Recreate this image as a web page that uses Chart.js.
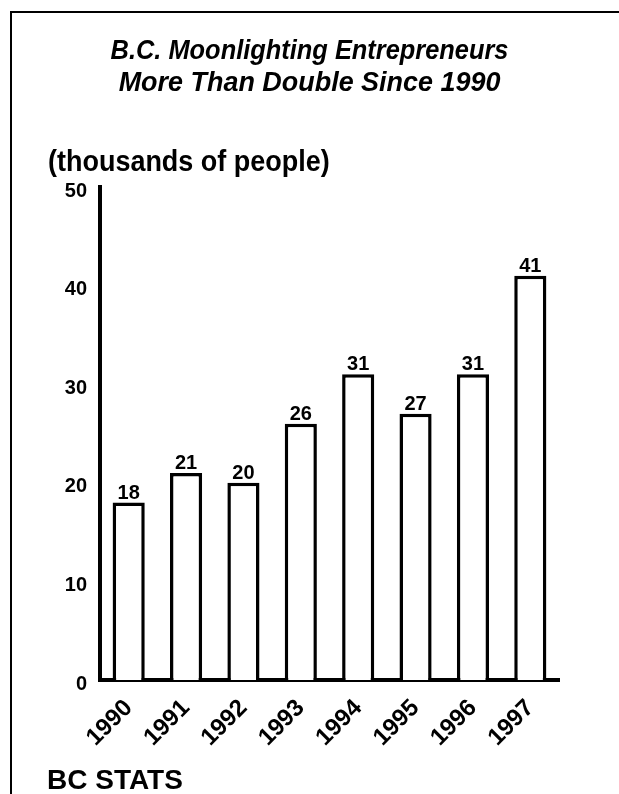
<!DOCTYPE html>
<html>
<head>
<meta charset="utf-8">
<script src="https://cdn.jsdelivr.net/npm/chart.js@4/dist/chart.umd.min.js"></script>
<style>
  html, body { margin: 0; padding: 0; background: #fff; }
  body { width: 619px; height: 794px; position: relative; overflow: hidden;
         font-family: "Liberation Sans", Arial, Helvetica, sans-serif; color: #000; }
  #frame { position: absolute; left: 10px; top: 11px; right: -4px; bottom: -4px;
           border-top: 2px solid #000; border-left: 2px solid #000; }
  #title { position: absolute; left: 0; top: 34px; width: 619px; text-align: center;
           font-weight: bold; font-style: italic; font-size: 28px; line-height: 32px; }
  #title .line { display: block; transform-origin: 310px 0; }
  #title .l1 { transform: scaleX(0.907); }
  #title .l2 { transform: scaleX(0.962); }
  #subtitle { position: absolute; left: 48px; top: 147px; font-weight: bold;
              font-size: 29px; line-height: 29px; white-space: nowrap;
              transform: scaleX(0.93); transform-origin: 0 0; }
  #source { position: absolute; left: 47px; top: 766px; font-weight: bold;
            font-size: 28px; line-height: 28px; white-space: nowrap; }
  #chart { position: absolute; left: 0; top: 0; }
</style>
</head>
<body>
<div id="frame"></div>
<canvas id="chart" width="619" height="794"></canvas>
<div id="title"><span class="line l1">B.C. Moonlighting Entrepreneurs</span><span class="line l2">More Than Double Since 1990</span></div>
<div id="subtitle">(thousands of people)</div>
<div id="source">BC STATS</div>
<script>
// Moonlighting entrepreneurs in B.C., thousands of people
const years = ['1990', '1991', '1992', '1993', '1994', '1995', '1996', '1997'];
const entrepreneurs = [18, 21, 20, 26, 31, 27, 31, 41];
const yTicks = [0, 10, 20, 30, 40, 50];

const FONT = '"Liberation Sans", Arial, Helvetica, sans-serif';

// Writes each bar's value just above it
const valueLabels = {
  id: 'valueLabels',
  afterDatasetsDraw(chart) {
    const ctx = chart.ctx;
    const meta = chart.getDatasetMeta(0);
    const values = chart.data.datasets[0].data;
    ctx.save();
    ctx.font = 'bold 20px ' + FONT;
    ctx.fillStyle = '#000';
    ctx.textAlign = 'center';
    ctx.textBaseline = 'alphabetic';
    meta.data.forEach((bar, i) => {
      ctx.fillText(String(values[i]), bar.x, bar.y - 4);
    });
    ctx.restore();
  }
};

new Chart(document.getElementById('chart'), {
  type: 'bar',
  data: {
    labels: years,
    datasets: [{
      data: entrepreneurs,
      backgroundColor: '#fff',
      borderColor: '#000',
      borderWidth: 3.5,
      barPercentage: 0.56,
      categoryPercentage: 1.0
    }]
  },
  options: {
    responsive: false,
    animation: false,
    devicePixelRatio: 1,
    layout: { padding: { left: 40, right: 60, top: 187, bottom: 34 } },
    plugins: {
      legend: { display: false },
      tooltip: { enabled: false },
      title: { display: false }
    },
    scales: {
      x: {
        z: 1,
        offset: true,
        grid: { display: false, drawTicks: false },
        border: { display: true, color: '#000', width: 4 },
        afterFit(scale) { scale.height = 80; },
        ticks: {
          autoSkip: false,
          minRotation: 45,
          maxRotation: 45,
          padding: 14,
          color: '#000',
          font: { family: FONT, size: 24, weight: 'bold' }
        }
      },
      y: {
        z: 1,
        min: 0,
        max: 50,
        grid: { display: false, drawTicks: false },
        border: { display: true, color: '#000', width: 4 },
        afterFit(scale) { scale.width = 60; },
        afterBuildTicks(scale) { scale.ticks = yTicks.map(v => ({ value: v })); },
        ticks: {
          padding: 13,
          labelOffset: 4,
          color: '#000',
          font: { family: FONT, size: 20, weight: 'bold' }
        }
      }
    }
  },
  plugins: [valueLabels]
});
</script>
</body>
</html>
